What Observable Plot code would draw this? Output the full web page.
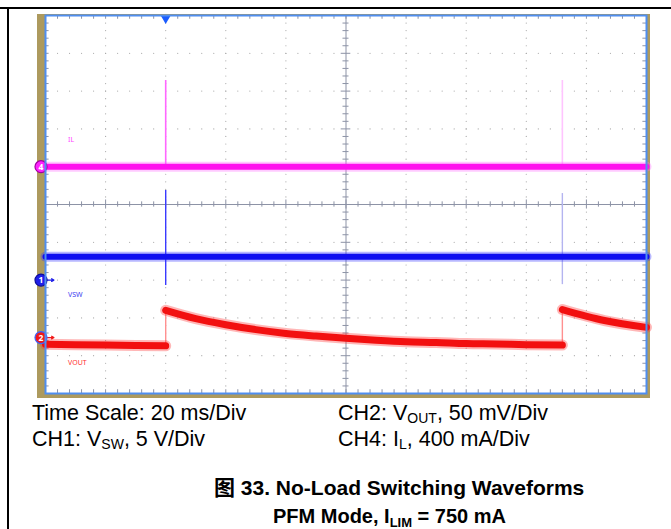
<!DOCTYPE html>
<html><head><meta charset="utf-8">
<script src="https://cdn.jsdelivr.net/npm/d3@7"></script>
<script src="https://cdn.jsdelivr.net/npm/@observablehq/plot@0.6"></script>
<style>
body{margin:0;background:#fff;width:671px;height:529px;position:relative;overflow:hidden;font-family:"Liberation Sans","Noto Sans CJK SC",Arial,sans-serif;}
#topline{position:absolute;left:0;top:7px;width:671px;height:2px;background:#000}
#leftline{position:absolute;left:7px;top:7px;width:2px;height:522px;background:#000}
#bezel{position:absolute;left:37px;top:14px;width:613px;height:384px;background:#ad9a5e}
#chart{position:absolute;left:0;top:0}
.t{position:absolute;font-size:21.5px;color:#000;white-space:nowrap;line-height:1}
.t sub{font-size:14px;vertical-align:-3px;line-height:0}
.c{font-weight:bold}
.c sub{font-size:13px;vertical-align:-4px}
</style></head>
<body>
<div id="topline"></div><div id="leftline"></div><div id="bezel"></div>
<div id="chart"></div>
<div class="t" style="left:32px;top:403px">Time Scale: 20 ms/Div</div>
<div class="t" style="left:32px;top:429px">CH1: V<sub>SW</sub>, 5 V/Div</div>
<div class="t" style="left:338px;top:403px">CH2: V<sub>OUT</sub>, 50 mV/Div</div>
<div class="t" style="left:338px;top:429px">CH4: I<sub>L</sub>, 400 mA/Div</div>
<div class="t c" style="left:214px;top:477px;font-size:21px">图 33. No-Load Switching Waveforms</div>
<div class="t c" style="left:273px;top:506px;font-size:20px">PFM Mode, I<sub>LIM</sub> = 750 mA</div>
<script>
// time axis: ms (20 ms/div, 10 divisions); vertical: screen divisions (0..10)
const xDomain = [0, 200];
const yDomain = [0, 10];

// CH4 inductor current (magenta)
const ilTime = [0, 200];
const ilDiv = [6.0, 6.0];
const ilSpikeTime = [40, 172];
const ilSpikeTop = [8.28, 8.28];
const ilSpikeColor = ["#ff66ff", "#ffc4ff"];

// CH1 switch-node voltage (blue)
const vswTime = [0, 200];
const vswDiv = [3.62, 3.62];
const vswSpikeTime = [40, 172];
const vswSpikeTop = [5.37, 5.29];
const vswSpikeBottom = [2.86, 2.88];
const vswSpikeColor = ["#3a3aff", "#b4b4f0"];

// CH2 output voltage (red)
const voutTime = [0, 20, 40, 40, 50, 60, 70, 80, 90, 100, 110, 120, 130, 140, 150, 160, 172, 172, 186, 200];
const voutDiv  = [1.30, 1.28, 1.26, 2.20, 1.98, 1.82, 1.69, 1.59, 1.52, 1.46, 1.41, 1.37, 1.35, 1.32, 1.31, 1.29, 1.28, 2.22, 1.93, 1.75];
const voutSeg  = [0, 0, 0, 1, 1, 1, 1, 1, 1, 1, 1, 1, 1, 1, 1, 1, 1, 2, 2, 2];

// channel ground markers
const markerLabel = ["4", "1", "2"];
const markerDiv = [6.0, 3.0, 1.48];
const markerFill = ["#ff22ff", "#1f1fe8", "#f01818"];
const markerStroke = ["#a000a0", "#0c0c9a", "#3a64ff"];

// trace labels
const labelText = ["IL", "VSW", "VOUT"];
const labelDiv = [6.7, 2.62, 0.82];
const labelColor = ["#ff44ff", "#3c3cf0", "#ff3030"];

const ilRows = ilTime.map((t, i) => ({t, v: ilDiv[i]}));
const vswRows = vswTime.map((t, i) => ({t, v: vswDiv[i]}));
const voutRows = voutTime.map((t, i) => ({t, v: voutDiv[i], s: voutSeg[i]}));
const ilSpikes = ilSpikeTime.map((t, i) => ({t, top: ilSpikeTop[i], bot: ilDiv[0], c: ilSpikeColor[i]}));
const vswSpikes = vswSpikeTime.map((t, i) => ({t, top: vswSpikeTop[i], bot: vswSpikeBottom[i], c: vswSpikeColor[i]}));
const voutJumps = [{t: 40, a: 1.26, b: 2.20}, {t: 172, a: 1.28, b: 2.22}];
const markers = markerLabel.map((l, i) => ({l, v: markerDiv[i], f: markerFill[i], s: markerStroke[i]}));
const labels = labelText.map((l, i) => ({l, v: labelDiv[i], c: labelColor[i]}));

// graticule helpers
const minorX = d3.range(0, 200.001, 4);
const minorY = d3.range(0, 10.001, 0.2).map(d => +d.toFixed(2));
const majorX = [20, 40, 60, 80, 120, 140, 160, 180];
const majorY = [1, 2, 3, 4, 6, 7, 8, 9];
const gridDots = [];
for (const x of majorX) for (const y of minorY) if (y > 0 && y < 10) gridDots.push({x, y});
for (const y of majorY) for (const x of minorX) if (x > 0 && x < 200 && x !== 100) gridDots.push({x, y});
const gcol = "#8d93a6";

const chart = Plot.plot({
  width: 671, height: 400,
  marginLeft: 45, marginRight: 25, marginTop: 15, marginBottom: 7,
  x: {domain: xDomain, axis: null},
  y: {domain: yDomain, axis: null},
  marks: [
    Plot.frame({fill: "#ffffff", stroke: null}),
    Plot.dot(gridDots, {x: "x", y: "y", r: 0.6, fill: "#a8a8a8", stroke: null}),
    Plot.ruleX([100], {stroke: gcol, strokeWidth: 1}),
    Plot.ruleY([5], {stroke: gcol, strokeWidth: 1}),
    // centre axis ticks
    Plot.ruleX(minorX, {x: d => d, y1: d => 5 - (d % 20 === 0 ? 0.12 : 0.07), y2: d => 5 + (d % 20 === 0 ? 0.12 : 0.07), stroke: gcol}),
    Plot.ruleY(minorY, {y: d => d, x1: d => 100 - (Math.abs(d % 1) < 1e-6 ? 1.6 : 1), x2: d => 100 + (Math.abs(d % 1) < 1e-6 ? 1.6 : 1), stroke: gcol}),
    // edge ticks
    Plot.ruleX(minorX, {x: d => d, y1: 10, y2: 9.9, stroke: gcol}),
    Plot.ruleX(minorX, {x: d => d, y1: 0, y2: 0.1, stroke: gcol}),
    Plot.ruleY(minorY, {y: d => d, x1: 0, x2: 1.2, stroke: gcol}),
    Plot.ruleY(minorY, {y: d => d, x1: 200, x2: 198.8, stroke: gcol}),
    // CH4 IL
    Plot.ruleX(ilSpikes, {x: "t", y1: "bot", y2: "top", stroke: "c", strokeWidth: 1.6}),
    Plot.line(ilRows, {x: "t", y: "v", stroke: "#ff66ff", strokeWidth: 10, strokeOpacity: 0.35}),
    Plot.line(ilRows, {x: "t", y: "v", stroke: "#ff10ee", strokeWidth: 6}),
    // CH1 VSW
    Plot.ruleX(vswSpikes, {x: "t", y1: "bot", y2: "top", stroke: "c", strokeWidth: 1.4}),
    Plot.line(vswRows, {x: "t", y: "v", stroke: "#3333ff", strokeWidth: 10, strokeOpacity: 0.35}),
    Plot.line(vswRows, {x: "t", y: "v", stroke: "#0f0ff0", strokeWidth: 6}),
    // CH2 VOUT
    Plot.ruleX(voutJumps, {x: "t", y1: "a", y2: "b", stroke: "#ff9090", strokeWidth: 1.4}),
    Plot.line(voutRows, {x: "t", y: "v", z: "s", stroke: "#ff3030", strokeWidth: 11, strokeOpacity: 0.35, curve: "monotone-x"}),
    Plot.line(voutRows, {x: "t", y: "v", z: "s", stroke: "#f21010", strokeWidth: 7, curve: "monotone-x"}),
    // trigger marker
    Plot.dot([40], {x: d => d, y: 10, symbol: "triangle", r: 3.6, rotate: 180, dy: 3, fill: "#1a5cff", stroke: null}),
    // ground-level arrows
    Plot.arrow(markers.slice(1), {x1: 0.2, x2: 2.8, y1: "v", y2: "v", stroke: "f", strokeWidth: 1.3, headLength: 5}),
    // channel markers
    Plot.dot(markers, {x: -1.5, y: "v", r: 6, fill: "f", stroke: "s", strokeWidth: 1.2}),
    Plot.text(markers, {x: -1.5, y: "v", text: "l", fill: "white", fontSize: 8.5, fontWeight: "bold", dy: 0.5}),
    // trace labels
    Plot.text(labels, {x: 7.5, y: "v", text: "l", fill: "c", fontSize: 7, textAnchor: "start"}),
    Plot.frame({stroke: "#4f8ef0", strokeWidth: 2})
  ]
});
document.getElementById("chart").appendChild(chart);
</script>
</body></html>
